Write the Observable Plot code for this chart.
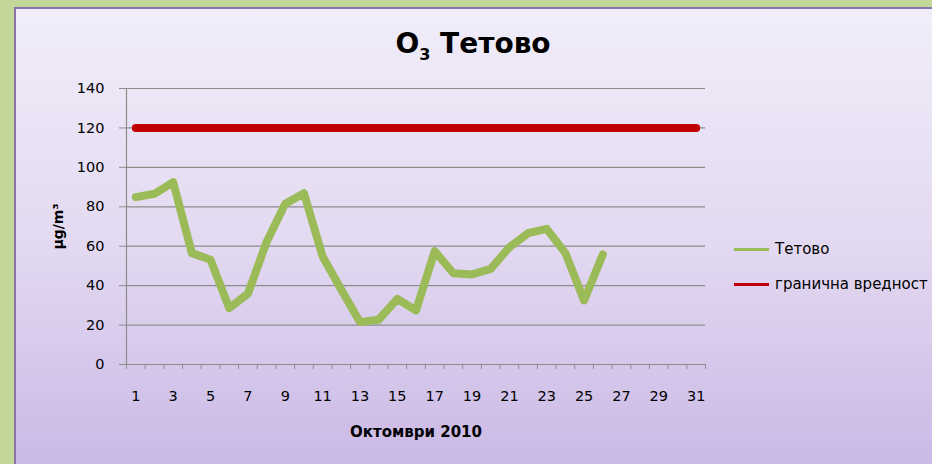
<!DOCTYPE html>
<html>
<head>
<meta charset="utf-8">
<script src="https://cdn.jsdelivr.net/npm/d3@7"></script>
<script src="https://cdn.jsdelivr.net/npm/@observablehq/plot@0.6"></script>
<style>
  html, body { margin: 0; padding: 0; }
  body { width: 932px; height: 464px; overflow: hidden; background: #c4d79b; position: relative; font-family: "DejaVu Sans", sans-serif; }
  #panel { position: absolute; left: 14px; top: 7px; width: 940px; height: 470px;
    border-left: 2px solid #8a72ad; border-top: 2px solid #8a72ad;
    background: linear-gradient(to bottom, #f1edf9 0%, #e3d9f1 50%, #c9b7e5 100%); }
  #chart { position: absolute; left: 0; top: 0; }
  #title { position: absolute; left: 0; width: 946px; top: 27px; text-align: center; font-weight: bold; font-size: 28px; color: #000; }
  #title sub { font-size: 16px; }
  .leg { position: absolute; left: 734px; font-size: 15px; color: #000; white-space: nowrap; }
  .leg span.sw { display: inline-block; width: 35px; height: 3px; vertical-align: middle; margin-right: 6px; }
</style>
</head>
<body>
<div id="panel"></div>
<div id="title">O<sub>3</sub> Тетово</div>
<div id="chart"></div>
<div class="leg" style="top:240px"><span class="sw" style="background:#9bbb59"></span>Тетово</div>
<div class="leg" style="top:275px"><span class="sw" style="background:#c00000"></span>гранична вредност</div>
<script>
const days = [1,2,3,4,5,6,7,8,9,10,11,12,13,14,15,16,17,18,19,20,21,22,23,24,25,26,27,28,29,30,31];
const o3Tetovo = [84.9, 86.6, 92.5, 56.5, 53.1, 28.6, 35.9, 62.1, 81.5, 86.9, 54.8, 37.9, 21.5, 22.7, 33.3, 27.4, 57.5, 46.3, 45.7, 48.5, 59.5, 66.6, 68.8, 56.5, 32.5, 55.8];
const limitValue = 120;
const yTicks = [0, 20, 40, 60, 80, 100, 120, 140];
const xLabels = [1, 3, 5, 7, 9, 11, 13, 15, 17, 19, 21, 23, 25, 27, 29, 31];

const o3Data = o3Tetovo.map((v, i) => ({day: days[i], value: v}));
const limitData = days.map(d => ({day: d, value: limitValue}));
const boundaries = days.map(d => d - 0.5).concat([days[days.length - 1] + 0.5]);

const chart = Plot.plot({
  width: 932,
  height: 464,
  marginLeft: 126,
  marginRight: 227,
  marginTop: 88,
  marginBottom: 100,
  style: {background: "transparent", fontFamily: "DejaVu Sans, sans-serif", fontSize: "14px", color: "#000"},
  x: {type: "linear", domain: [0.5, 31.5], axis: null},
  y: {domain: [0, 140], axis: null},
  marks: [
    Plot.ruleY(yTicks, {stroke: "#8c8c8c", strokeWidth: 1.2}),
    Plot.ruleX([0.5], {y1: 0, y2: 140, stroke: "#8c8c8c", strokeWidth: 1.2}),
    Plot.axisY({ticks: yTicks, tickSize: 7, tickPadding: 15, label: null, stroke: "#8c8c8c", fill: "#000", fontSize: 14.5}),
    Plot.axisX({ticks: boundaries, tickSize: 5, tickFormat: () => "", label: null, stroke: "#8c8c8c"}),
    Plot.axisX({ticks: xLabels, tickSize: 0, tickPadding: 26, tickFormat: d => String(d), label: null, fill: "#000", fontSize: 14.5}),
    Plot.line(limitData, {x: "day", y: "value", stroke: "#c00000", strokeWidth: 8, strokeLinecap: "round"}),
    Plot.line(o3Data, {x: "day", y: "value", stroke: "#9bbb59", strokeWidth: 8, strokeLinecap: "round", strokeLinejoin: "round"}),
    Plot.text([0], {frameAnchor: "left", textAnchor: "middle", dx: -68, rotate: -90, text: () => "μg/m³", fontWeight: "bold", fontSize: 14, fill: "#000"}),
    Plot.text([0], {frameAnchor: "bottom", dy: 72, text: () => "Октомври 2010", fontWeight: "bold", fontSize: 15, fill: "#000"})
  ]
});
document.getElementById("chart").appendChild(chart);
</script>
</body>
</html>
